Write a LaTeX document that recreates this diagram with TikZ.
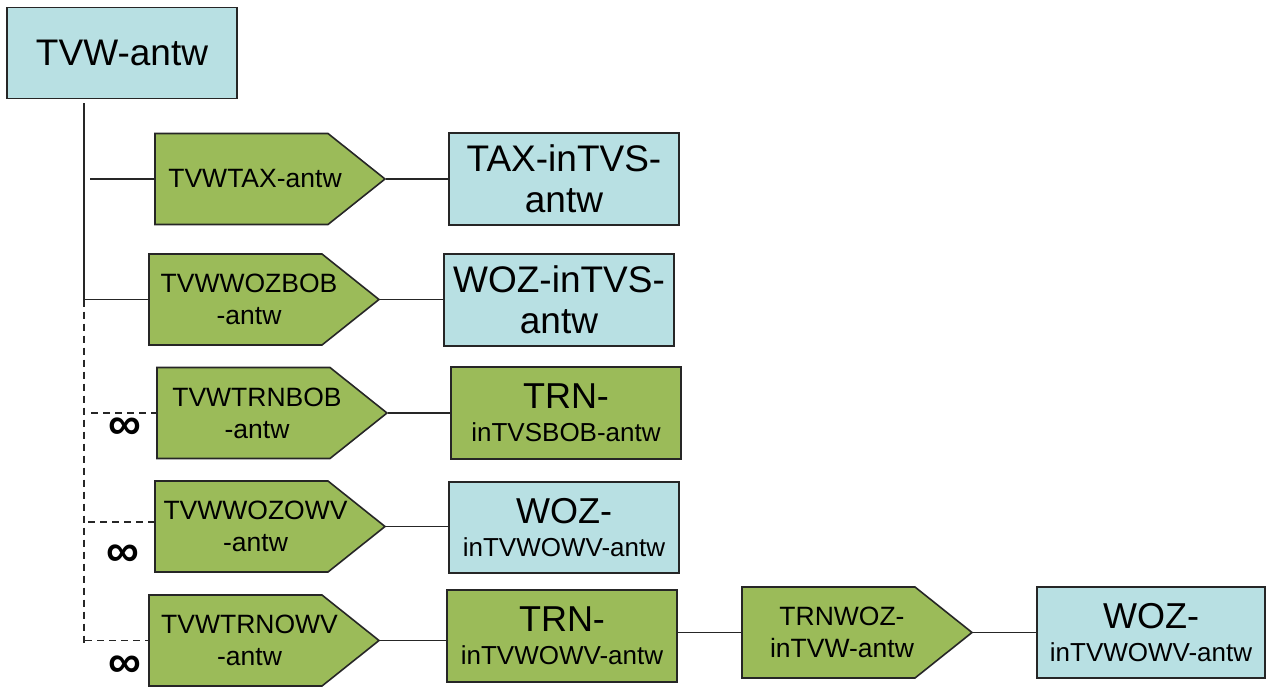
\documentclass[tikz,border=0pt]{standalone}
\usepackage{fontspec}
\setmainfont{Liberation Sans}
\usetikzlibrary{shapes.symbols}
\definecolor{boxblue}{HTML}{B8E0E3}
\definecolor{boxgreen}{HTML}{9BBB59}
\tikzset{
  bigfont/.style={font=\fontsize{37}{41}\selectfont},
  smallfont/.style={font=\fontsize{26.5}{32}\selectfont},
  rbox/.style={draw=black!85, line width=1.6pt, minimum width=230pt, minimum height=91pt, inner sep=0pt, align=center},
  bluebox/.style={rbox, fill=boxblue},
  greenbox/.style={rbox, fill=boxgreen},
  pent/.style={signal, signal to=east, signal pointer angle=77.2, draw=black!85, line width=1.6pt, fill=boxgreen, minimum width=230pt, minimum height=91pt, inner sep=0pt},
  plabel/.style={smallfont, align=center, inner sep=0pt},
  conn/.style={line width=1.4pt, draw=black!85},
  dconn/.style={conn, dash pattern=on 7pt off 5pt},
  inf/.style={font=\fontsize{46}{46}\selectfont\bfseries, inner sep=0pt}
}
\begin{document}
\begin{tikzpicture}[x=1pt, y=-1pt]
\useasboundingbox (0,0) rectangle (1267,686);

% root
\node[bluebox, bigfont] (root) at (122,53) {TVW-antw};

% pentagons (body centre = left + 86.5)
\node[pent] (p1) at (241.5,179) {};
\node[pent] (p2) at (235.5,299.5) {};
\node[pent] (p3) at (243.5,413) {};
\node[pent] (p4) at (241.5,526.5) {};
\node[pent] (p5) at (235.5,640.5) {};
\node[pent] (p6) at (828.5,632.5) {};

\node[plabel] (l1) at ([xshift=13.5pt]p1.center) {TVWTAX-antw};
\node[plabel] (l2) at ([xshift=13.5pt]p2.center) {TVWWOZBOB\\-antw};
\node[plabel] (l3) at ([xshift=13.5pt]p3.center) {TVWTRNBOB\\-antw};
\node[plabel] (l4) at ([xshift=14pt]p4.center) {TVWWOZOWV\\-antw};
\node[plabel] (l5) at ([xshift=14pt]p5.center) {TVWTRNOWV\\-antw};
\node[plabel] (l6) at ([xshift=13.5pt]p6.center) {TRNWOZ-\\inTVW-antw};

% right boxes
\node[bluebox, bigfont, minimum height=92pt] (b1) at (564,179) {TAX-inTVS-\\antw};
\node[bluebox, bigfont, minimum height=92pt] (b2) at (559,300) {WOZ-inTVS-\\antw};
\node[greenbox, font=\fontsize{26}{33}\selectfont, minimum height=92pt] (b3) at (566,413) {{\fontsize{36}{33}\selectfont TRN-}\\inTVSBOB-antw};
\node[bluebox, font=\fontsize{26}{33}\selectfont] (b4) at (564,527.5) {{\fontsize{36}{33}\selectfont WOZ-}\\inTVWOWV-antw};
\node[greenbox, font=\fontsize{26}{33}\selectfont, minimum height=92pt] (b5) at (562,636) {{\fontsize{36}{33}\selectfont TRN-}\\inTVWOWV-antw};
\node[bluebox, font=\fontsize{26}{33}\selectfont, minimum width=228pt] (b6) at (1151,632.5) {{\fontsize{36}{33}\selectfont WOZ-}\\inTVWOWV-antw};

% tree trunk
\coordinate (t0) at (84,103);
\coordinate (t1) at (84,299.5);
\coordinate (t2) at (84,647);
\coordinate (s1) at (90,179);
\coordinate (s3) at (91,413);
\coordinate (s4) at (88,522);
\coordinate (s5) at (85,640.5);

\draw[conn] (t0) -- (t1);
\draw[dconn] (t1) -- (t2);
\draw[conn] (s1) -- (p1.west);
\draw[conn] (t1) -- (p2.west);
\draw[dconn] (s3) -- (p3.west);
\draw[dconn] (s4) -- (s4 -| p4.west);
\draw[dconn] (s5) -- (p5.west);

% connectors to boxes
\draw[conn] (p1.east) -- (p1.east -| b1.west);
\draw[conn] (p2.east) -- (p2.east -| b2.west);
\draw[conn] (p3.east) -- (p3.east -| b3.west);
\draw[conn] (p4.east) -- (p4.east -| b4.west);
\draw[conn] (p5.east) -- (p5.east -| b5.west);
\draw[conn] (b5.east |- p6.west) -- (p6.west);
\draw[conn] (p6.east) -- (p6.east -| b6.west);

% multiplicity marks
\node[inf] (i3) at (125,429) {∞};
\node[inf] (i4) at (123,556) {∞};
\node[inf] (i5) at (125,667) {∞};
\end{tikzpicture}
\end{document}
